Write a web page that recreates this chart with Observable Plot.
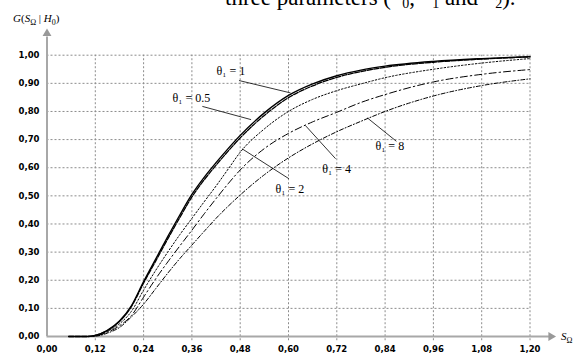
<!DOCTYPE html>
<html><head><meta charset="utf-8">
<script src="https://cdn.jsdelivr.net/npm/d3@7"></script>
<script src="https://cdn.jsdelivr.net/npm/@observablehq/plot@0.6"></script>
<style>
body{margin:0;background:#fff;}
#wrap{position:relative;width:575px;height:354px;overflow:hidden;}
#title{position:absolute;left:225px;top:-15px;line-height:23px;font:23px "Liberation Serif",serif;white-space:nowrap;color:#000;}
#title sub{font-size:14px;vertical-align:-3px;line-height:0;}
#title .th{position:relative;top:-7px;font-style:italic;}
#chart{position:absolute;left:0;top:0;}
</style></head><body>
<div id="wrap"><div id="chart"></div><div id="title">three parameters (<span class="th">θ</span><sub>0</sub>, <span class="th">θ</span><sub>1</sub> and <span class="th">θ</span><sub>2</sub>).</div></div>
<script>
// S_Omega values
const S = [0.054, 0.10, 0.12, 0.15, 0.18, 0.21, 0.24, 0.27, 0.30, 0.33, 0.36, 0.39, 0.42, 0.45, 0.48, 0.54, 0.60, 0.66, 0.72, 0.78, 0.84, 0.96, 1.08, 1.20];
// G(S|H0) for each theta1
const g1  = [0, 0, 0.004, 0.022, 0.055, 0.11, 0.195, 0.275, 0.355, 0.432, 0.505, 0.565, 0.618, 0.668, 0.715, 0.795, 0.857, 0.898, 0.927, 0.947, 0.961, 0.978, 0.988, 0.995];
const g05 = [0, 0, 0.004, 0.021, 0.053, 0.107, 0.19, 0.268, 0.347, 0.423, 0.496, 0.556, 0.609, 0.659, 0.706, 0.786, 0.849, 0.891, 0.921, 0.942, 0.957, 0.975, 0.986, 0.994];
const g2  = [0, 0, 0.003, 0.018, 0.045, 0.09, 0.165, 0.235, 0.30, 0.362, 0.42, 0.478, 0.535, 0.595, 0.655, 0.738, 0.80, 0.843, 0.874, 0.898, 0.92, 0.95, 0.972, 0.988];
const g4  = [0, 0, 0.002, 0.015, 0.038, 0.075, 0.14, 0.205, 0.265, 0.322, 0.378, 0.435, 0.49, 0.543, 0.592, 0.668, 0.722, 0.763, 0.797, 0.832, 0.86, 0.905, 0.932, 0.949];
const g8  = [0, 0, 0.001, 0.012, 0.032, 0.07, 0.115, 0.17, 0.225, 0.277, 0.325, 0.373, 0.42, 0.463, 0.503, 0.575, 0.635, 0.685, 0.728, 0.765, 0.80, 0.855, 0.892, 0.916];

const xTicks = [0, 0.12, 0.24, 0.36, 0.48, 0.60, 0.72, 0.84, 0.96, 1.08, 1.20];
const yTicks = [0, 0.1, 0.2, 0.3, 0.4, 0.5, 0.6, 0.7, 0.8, 0.9, 1.0];

// curve labels
const labelText = ["θ₁ = 1", "θ₁ = 0.5", "θ₁ = 2", "θ₁ = 4", "θ₁ = 8"];
const labelX = [0.421, 0.312, 0.568, 0.684, 0.816];
const labelY = [0.943, 0.846, 0.525, 0.596, 0.675];
// leader lines
const leadX1 = [0.477, 0.386, 0.601, 0.717, 0.868];
const leadY1 = [0.910, 0.818, 0.561, 0.632, 0.694];
const leadX2 = [0.605, 0.507, 0.485, 0.642, 0.796];
const leadY2 = [0.866, 0.771, 0.667, 0.750, 0.777];

const fmt = d => d.toFixed(2).replace(".", ",");
const rows = (g) => S.map((s, i) => ({S: s, G: g[i]}));
const labels = labelText.map((t, i) => ({t, x: labelX[i], y: labelY[i]}));
const leads = labelText.map((t, i) => ({x1: leadX1[i], y1: leadY1[i], x2: leadX2[i], y2: leadY2[i]}));

const gridStyle = {stroke: "#8c8c8c", strokeWidth: 1, strokeDasharray: "2,2"};
const axisCol = "#a8a8a8";

const chart = Plot.plot({
  width: 575, height: 354,
  marginLeft: 46.5, marginRight: 45.5, marginTop: 54.7, marginBottom: 18,
  style: {fontFamily: "DejaVu Sans", fontSize: "8.5px", background: "#fff", overflow: "visible"},
  x: {domain: [0, 1.2]},
  y: {domain: [0, 1]},
  marks: [
    Plot.ruleX(xTicks.filter(d => d > 0), {y1: -0.015, y2: 1, ...gridStyle}),
    Plot.ruleY(yTicks.filter(d => d > 0), {x1: 0, x2: 1.2, ...gridStyle}),
    Plot.ruleX([0], {y1: 0, y2: 1.065, stroke: axisCol, strokeWidth: 2}),
    Plot.ruleY([0], {x1: 0, x2: 1.25, stroke: axisCol, strokeWidth: 2}),
    Plot.dot([{x: 0, y: 1.077}], {x: "x", y: "y", symbol: "triangle", r: 3.3, fill: "#999", stroke: "none"}),
    Plot.dot([{x: 1.252, y: 0}], {x: "x", y: "y", symbol: "triangle", r: 3.3, fill: "#999", stroke: "none", rotate: 90}),
    Plot.axisX({ticks: xTicks, tickFormat: fmt, tickSize: 0, tickPadding: 9.5, fontWeight: "bold", fontSize: 8.5, fontFamily: "DejaVu Sans", label: null}),
    Plot.axisY({ticks: yTicks, tickFormat: fmt, tickSize: 0, tickPadding: 7.5, fontWeight: "bold", fontSize: 8.5, fontFamily: "DejaVu Sans", label: null}),
    Plot.line(rows(g8), {x: "S", y: "G", stroke: "#000", strokeWidth: 1, strokeDasharray: "4,2,1,2", curve: "monotone-x"}),
    Plot.line(rows(g4), {x: "S", y: "G", stroke: "#000", strokeWidth: 1, strokeDasharray: "7,3,1.5,3", curve: "monotone-x"}),
    Plot.line(rows(g2), {x: "S", y: "G", stroke: "#000", strokeWidth: 1, strokeDasharray: "1.5,2", curve: "monotone-x"}),
    Plot.line(rows(g05), {x: "S", y: "G", stroke: "#000", strokeWidth: 1.3, strokeDasharray: "5,1.5", curve: "monotone-x"}),
    Plot.line(rows(g1), {x: "S", y: "G", stroke: "#000", strokeWidth: 1.4, curve: "monotone-x"}),
    Plot.link(leads, {x1: "x1", y1: "y1", x2: "x2", y2: "y2", stroke: "#000", strokeWidth: 0.8}),
    Plot.text(labels, {x: "x", y: "y", text: "t", textAnchor: "start", fontFamily: "Liberation Serif", fontSize: 12, fill: "#000"})
  ]
});
document.getElementById("chart").appendChild(chart);

const svg = d3.select(chart);
// y-axis title
const yl = svg.append("text").attr("x", 13).attr("y", 22).attr("text-anchor", "start")
  .attr("font-family", "Liberation Serif").attr("font-size", 11).attr("fill", "#000");
yl.append("tspan").attr("font-style", "italic").text("G");
yl.append("tspan").text("(");
yl.append("tspan").attr("font-style", "italic").text("S");
yl.append("tspan").attr("font-size", 8).attr("dy", 3).text("Ω");
yl.append("tspan").attr("dy", -3).text(" | ");
yl.append("tspan").attr("font-style", "italic").text("H");
yl.append("tspan").attr("font-size", 8).attr("dy", 3).text("0");
yl.append("tspan").attr("dy", -3).text(")");
// x-axis title
const xl = svg.append("text").attr("x", 561).attr("y", 340).attr("text-anchor", "start")
  .attr("font-family", "Liberation Serif").attr("font-size", 11).attr("fill", "#000");
xl.append("tspan").attr("font-style", "italic").text("S");
xl.append("tspan").attr("font-size", 8).attr("dy", 3).text("Ω");
</script>
</body></html>
